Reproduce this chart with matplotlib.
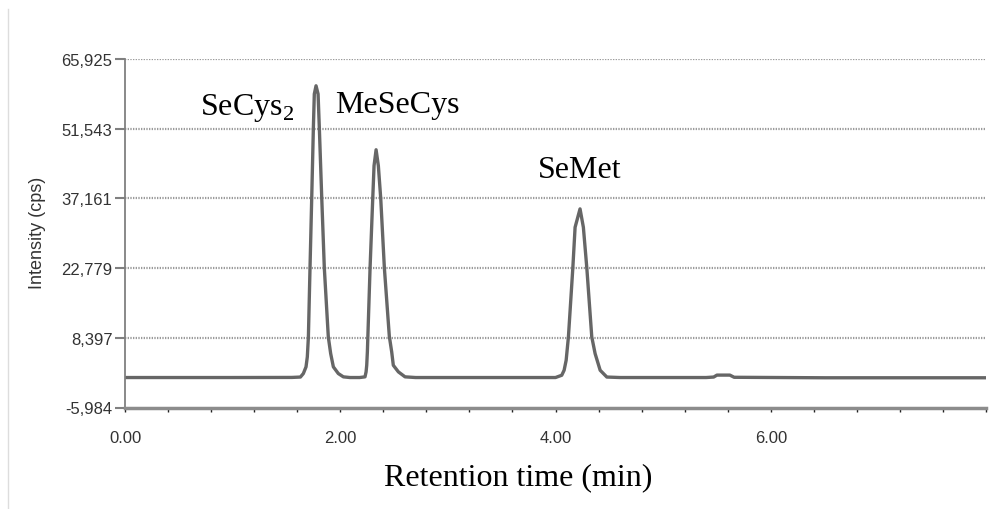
import matplotlib.pyplot as plt
from matplotlib.ticker import MultipleLocator, FuncFormatter
from matplotlib.lines import Line2D

plt.rcParams['mathtext.fontset'] = 'custom'
plt.rcParams['mathtext.rm'] = 'Liberation Serif'

# chromatogram trace (time in min, intensity in cps)
ret_time = [0.00, 1.00, 1.55, 1.63, 1.657, 1.682, 1.694, 1.704, 1.719, 1.735,
            1.750, 1.759, 1.775, 1.794, 1.806, 1.828, 1.852, 1.889, 1.911, 1.936,
            1.982, 2.029, 2.09, 2.18, 2.230, 2.240, 2.246, 2.252, 2.277, 2.302,
            2.314, 2.333, 2.354, 2.376, 2.410, 2.456, 2.478, 2.493, 2.540, 2.602,
            2.70, 3.50, 4.00, 4.058, 4.080, 4.099, 4.120, 4.161, 4.182, 4.228,
            4.259, 4.291, 4.337, 4.368, 4.415, 4.477, 4.60, 5.40, 5.47, 5.50,
            5.62, 5.66, 6.50, 8.00]
intensity = [200, 200, 220, 300, 1020, 2400, 4460, 8580, 22800, 37300,
             51500, 58700, 60400, 58700, 51500, 37300, 22800, 8580, 5140, 2400,
             1020, 340, 200, 200, 340, 1370, 2730, 5490, 22800, 37200,
             43900, 47200, 43900, 37200, 22800, 8700, 5490, 2730, 1370, 340,
             200, 200, 200, 670, 1700, 3760, 8580, 22800, 31200, 35000,
             31200, 22800, 8580, 5140, 1700, 300, 200, 200, 300, 700,
             700, 250, 150, 150]

yticks = [-5984, 8397, 22779, 37161, 51543, 65925]
xticks = [0, 2, 4, 6]

# peak labels: (text, time, intensity) at the left baseline of the label
peak_names = ['SeCys$_\\mathrm{2}$', 'MeSeCys', 'SeMet']
label_t = [0.70, 1.95, 3.84]
label_i = [54600, 55000, 41600]

tick_font = ['Liberation Sans Narrow', 'Liberation Sans', 'DejaVu Sans']

fig = plt.figure(figsize=(10.01, 5.10), dpi=100)
ax = fig.add_axes([125 / 1001, 101.5 / 510, 861 / 1001, 348.5 / 510])

ax.plot(ret_time, intensity, color='#666666', lw=2.4, solid_joinstyle='round')

ax.set_xlim(0, 8.0)
ax.set_ylim(yticks[0], yticks[-1])

# dotted horizontal grid at every y tick
for y in yticks[1:]:
    ax.axhline(y, color='#9a9a9a', lw=1.6, ls=(0, (0.6, 0.6)), zorder=0)

ax.set_yticks(yticks)
ax.yaxis.set_major_formatter(FuncFormatter(lambda v, p: '{:,.0f}'.format(v)))
ax.set_xticks(xticks)
ax.xaxis.set_major_formatter(FuncFormatter(lambda v, p: '{:.2f}'.format(v)))
ax.xaxis.set_minor_locator(MultipleLocator(0.4))

ax.tick_params(axis='y', length=7.5, width=1.5, color='#808080', pad=1.5,
               labelsize=12, labelcolor='#333333')
ax.tick_params(axis='x', which='both', length=3, width=1, color='#222222',
               pad=13, labelsize=12, labelcolor='#333333')
for lab in ax.get_xticklabels() + ax.get_yticklabels():
    lab.set_family(tick_font)

for side in ['top', 'right']:
    ax.spines[side].set_visible(False)
ax.spines['left'].set_color('#808080')
ax.spines['left'].set_linewidth(1.3)
ax.spines['bottom'].set_color('#8c8c8c')
ax.spines['bottom'].set_linewidth(2.5)

ax.set_ylabel('Intensity (cps)', fontsize=13, family='Liberation Sans',
              color='#333333')
ax.yaxis.set_label_coords(-79 / 861, (408.5 - 233) / 348.5)

for name, t, i in zip(peak_names, label_t, label_i):
    ax.text(t, i, name, fontsize=23, family='Liberation Serif',
            ha='left', va='baseline')

fig.text(518.5 / 1001, 1 - 478 / 510, 'Retention time (min)', fontsize=23,
         family='Liberation Serif', ha='center', va='center')

# thin frame line on the far left of the original figure
fig.add_artist(Line2D([8 / 1001, 8 / 1001], [0, 1 - 10 / 510],
                      color='#dddddd', lw=1))

fig.savefig('out.png', dpi=100)
